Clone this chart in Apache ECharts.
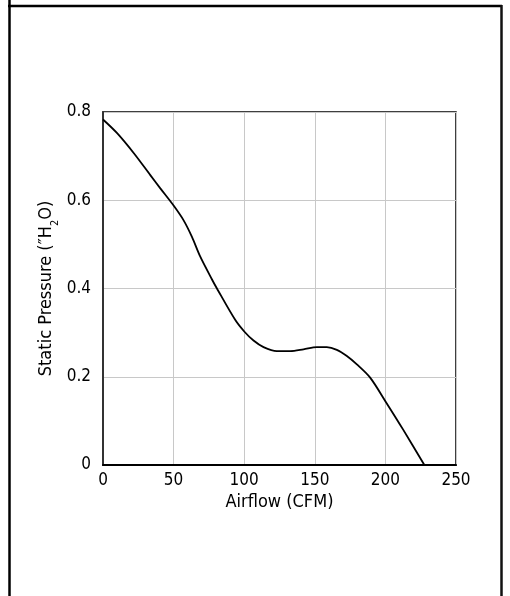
<!DOCTYPE html>
<html>
<head>
<meta charset="utf-8">
<script src="https://cdn.jsdelivr.net/npm/echarts@6/dist/echarts.min.js"></script>
<style>
html,body{margin:0;padding:0;background:#fff;}
#chart{width:510px;height:596px;}
</style>
</head>
<body>
<div id="chart"></div>
<script>
const airflow = [0, 10, 22, 33.5, 40.6, 50, 57, 63, 68.9, 77.1, 80.7, 93.6, 100.2, 106.6, 113.7, 123.1, 132.6, 142, 151.5, 158.5, 165.6, 172.7, 179.8, 189.2, 200.3, 212.8, 227.6];
const pressure = [0.783, 0.752, 0.706, 0.657, 0.627, 0.588, 0.555, 0.517, 0.472, 0.421, 0.4, 0.329, 0.302, 0.282, 0.267, 0.258, 0.258, 0.262, 0.267, 0.267, 0.261, 0.247, 0.228, 0.198, 0.143, 0.079, 0];
const xTicks = [0, 50, 100, 150, 200, 250];
const yTicks = [0, 0.2, 0.4, 0.6, 0.8];
const xName = 'Airflow (CFM)';
const yName = '{a|Static Pressure (″H}{s|2}{a|O)}';

const FONT = 'DejaVu Sans Condensed, DejaVu Sans';
const chart = echarts.init(document.getElementById('chart'), null, {renderer: 'canvas'});
chart.setOption({
  backgroundColor: '#fff',
  animation: false,
  graphic: [
    {type: 'line', shape: {x1: 9.5, y1: 0, x2: 9.5, y2: 596}, style: {stroke: '#000', lineWidth: 2.5}},
    {type: 'line', shape: {x1: 8, y1: 6, x2: 502, y2: 6}, style: {stroke: '#000', lineWidth: 2.5}},
    {type: 'line', shape: {x1: 501.5, y1: 5, x2: 501.5, y2: 596}, style: {stroke: '#111', lineWidth: 2.5}}
  ],
  grid: {left: 103, top: 112, right: 54, bottom: 131, show: true, borderColor: '#000', borderWidth: 1.5, containLabel: false},
  xAxis: {
    type: 'value', min: xTicks[0], max: xTicks[xTicks.length - 1], interval: 50,
    name: xName, nameLocation: 'middle', nameGap: 28, nameMoveOverlap: false,
    nameTextStyle: {fontFamily: FONT, fontSize: 18, color: '#000'},
    axisLine: {show: true, lineStyle: {color: '#000', width: 2}},
    axisTick: {show: false},
    axisLabel: {fontFamily: FONT, fontSize: 17, color: '#000', margin: 7},
    splitLine: {show: true, lineStyle: {color: '#c8c8c8', width: 1}}
  },
  yAxis: {
    type: 'value', min: yTicks[0], max: yTicks[yTicks.length - 1], interval: 0.2,
    name: yName, nameLocation: 'middle', nameGap: 46, nameMoveOverlap: false,
    nameTextStyle: {
      fontFamily: FONT, fontSize: 18, color: '#000',
      rich: {
        a: {fontFamily: FONT, fontSize: 18, color: '#000', lineHeight: 22},
        s: {fontFamily: FONT, fontSize: 11, color: '#000', verticalAlign: 'bottom', lineHeight: 22, padding: [0, 0, -4, 0]}
      }
    },
    axisLine: {show: true, lineStyle: {color: '#333', width: 2}},
    axisTick: {show: false},
    axisLabel: {fontFamily: FONT, fontSize: 17, color: '#000', margin: 12,
      formatter: v => (v === 0 ? '0' : v.toFixed(1))},
    splitLine: {show: true, lineStyle: {color: '#c8c8c8', width: 1}}
  },
  series: [{
    type: 'line',
    data: airflow.map((x, i) => [x, pressure[i]]),
    smooth: 0.3,
    showSymbol: false,
    lineStyle: {color: '#000', width: 1.8},
    z: 5
  }]
});
</script>
</body>
</html>
